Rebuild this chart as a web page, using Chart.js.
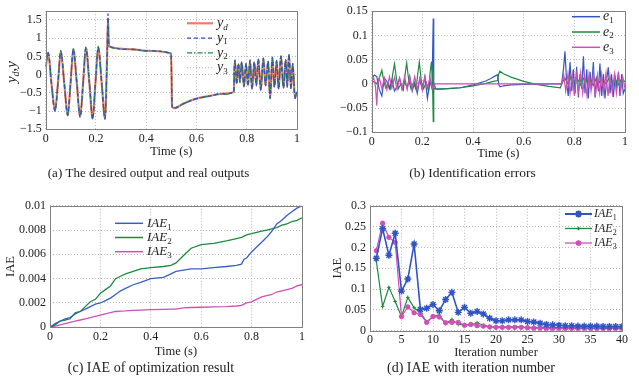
<!DOCTYPE html>
<html><head><meta charset="utf-8">
<script src="https://cdn.jsdelivr.net/npm/chart.js"></script>
<style>
html,body{margin:0;padding:0;background:#fff;width:639px;height:378px;overflow:hidden;}
canvas{position:absolute;}
</style></head><body>
<canvas id="ca" width="320" height="189" style="left:0;top:0"></canvas>
<canvas id="cb" width="319" height="189" style="left:320px;top:0"></canvas>
<canvas id="cc" width="320" height="189" style="left:0;top:189px"></canvas>
<canvas id="cd" width="319" height="189" style="left:320px;top:189px"></canvas>
<script>
// ---------- (a) desired output and real outputs ----------
const tA = [0, 0.010, 0.023, 0.037, 0.049, 0.060, 0.074, 0.0875, 0.099, 0.110, 0.124, 0.137, 0.149, 0.160, 0.174, 0.187, 0.198, 0.209, 0.223, 0.236, 0.244, 0.248, 0.2505, 0.253, 0.35, 0.40, 0.499, 0.503, 0.51, 0.55, 0.60, 0.65, 0.70, 0.749, 0.750, 0.753, 0.760, 0.767, 0.773, 0.780, 0.789, 0.797, 0.805, 0.813, 0.821, 0.830, 0.838, 0.846, 0.856, 0.866, 0.875, 0.885, 0.893, 0.902, 0.910, 0.919, 0.927, 0.936, 0.946, 0.955, 0.961, 0.968, 0.976, 0.983, 0.992, 1.0];
const yd = [0.2, 0.59, -0.25, -0.99, -0.22, 0.64, -0.25, -1.12, -0.22, 0.68, -0.25, -1.16, -0.22, 0.73, -0.25, -1.21, -0.22, 0.73, -0.25, -1.21, 0.4, 1.55, 0.9, 0.77, 0.693, 0.653, 0.575, -0.88, -0.92, -0.79, -0.66, -0.59, -0.53, -0.48, -0.02, 0.37, -0.24, 0.29, -0.20, 0.33, -0.33, 0.29, -0.29, 0.37, -0.39, 0.33, -0.29, 0.40, -0.42, 0.44, -0.29, 0.35, -0.64, 0.46, -0.33, 0.37, -0.39, 0.50, -0.36, 0.40, -0.33, 0.54, -0.38, 0.29, -0.64, -0.47];
const y1 = [0.21, 0.60, -0.25, -1.0, -0.22, 0.64, -0.26, -1.12, -0.22, 0.69, -0.25, -1.17, -0.22, 0.73, -0.26, -1.21, -0.22, 0.74, -0.25, -1.22, 0.45, 1.67, 0.9, 0.77, 0.692, 0.652, 0.58, -0.88, -0.925, -0.79, -0.66, -0.59, -0.53, -0.48, -0.02, 0.40, -0.26, 0.30, -0.22, 0.36, -0.33, 0.31, -0.31, 0.40, -0.40, 0.35, -0.31, 0.44, -0.44, 0.46, -0.31, 0.38, -0.66, 0.48, -0.35, 0.39, -0.40, 0.51, -0.37, 0.41, -0.35, 0.55, -0.40, 0.30, -0.66, -0.48];
const y2 = [0.2, 0.61, -0.24, -0.98, -0.21, 0.66, -0.24, -1.11, -0.21, 0.71, -0.24, -1.15, -0.21, 0.76, -0.24, -1.2, -0.21, 0.77, -0.24, -1.2, 0.35, 1.47, 0.88, 0.76, 0.688, 0.65, 0.58, -0.87, -0.91, -0.79, -0.66, -0.59, -0.535, -0.485, -0.02, 0.38, -0.23, 0.30, -0.19, 0.34, -0.32, 0.30, -0.28, 0.38, -0.38, 0.34, -0.28, 0.41, -0.41, 0.45, -0.28, 0.36, -0.63, 0.47, -0.32, 0.38, -0.38, 0.51, -0.35, 0.41, -0.32, 0.55, -0.37, 0.30, -0.63, -0.46];
const y3 = [0.2, 0.6, -0.25, -0.99, -0.22, 0.64, -0.25, -1.13, -0.22, 0.68, -0.25, -1.16, -0.22, 0.74, -0.25, -1.21, -0.22, 0.74, -0.25, -1.21, 0.4, 1.53, 0.9, 0.77, 0.693, 0.653, 0.575, -0.88, -0.92, -0.79, -0.66, -0.59, -0.53, -0.48, -0.02, 0.36, -0.22, 0.28, -0.19, 0.32, -0.31, 0.28, -0.27, 0.36, -0.37, 0.32, -0.27, 0.39, -0.40, 0.43, -0.27, 0.34, -0.62, 0.45, -0.31, 0.36, -0.37, 0.49, -0.34, 0.39, -0.31, 0.53, -0.36, 0.28, -0.62, -0.46];
const ticksAx = [0, 0.2, 0.4, 0.6, 0.8, 1];
const ticksAy = [-1.5, -1, -0.5, 0, 0.5, 1, 1.5];

// ---------- (b) identification errors ----------
const tE1 = [0, 0.01, 0.02, 0.03, 0.04, 0.05, 0.06, 0.07, 0.08, 0.09, 0.10, 0.11, 0.12, 0.13, 0.14, 0.15, 0.16, 0.17, 0.18, 0.19, 0.20, 0.21, 0.22, 0.23, 0.238, 0.243, 0.245, 0.247, 0.252, 0.26, 0.30, 0.35, 0.40, 0.45, 0.47, 0.49, 0.497, 0.502, 0.507, 0.52, 0.55, 0.60, 0.70, 0.75, 0.757, 0.763, 0.770, 0.776, 0.783, 0.790, 0.796, 0.803, 0.809, 0.816, 0.822, 0.829, 0.836, 0.842, 0.849, 0.855, 0.862, 0.868, 0.875, 0.882, 0.888, 0.895, 0.901, 0.908, 0.915, 0.921, 0.928, 0.934, 0.941, 0.947, 0.954, 0.961, 0.967, 0.974, 0.980, 0.987, 0.993, 1.0];
const e1 = [0.01, 0.018, 0.015, -0.012, -0.025, 0.012, 0.005, -0.01, 0.008, -0.015, -0.005, 0.012, -0.012, 0.005, -0.008, 0.016, -0.015, 0.003, -0.02, 0.01, -0.012, 0.015, -0.03, 0.005, -0.01, 0.135, -0.005, 0.0, -0.01, -0.011, -0.01, -0.008, -0.002, 0.006, 0.011, 0.017, 0.019, -0.002, -0.006, -0.004, -0.002, -0.001, 0.0, 0.0, 0.03, 0.067, 0.0, -0.025, 0.045, -0.015, 0.03, -0.02, 0.035, -0.028, 0.02, -0.01, 0.057, -0.02, 0.03, -0.03, 0.025, -0.01, 0.045, -0.028, 0.015, -0.015, 0.042, -0.025, 0.02, -0.03, 0.01, 0.034, -0.02, 0.02, -0.027, 0.015, -0.005, 0.025, -0.025, 0.02, -0.02, -0.01];
const tE2 = [0, 0.01, 0.02, 0.03, 0.04, 0.048, 0.055, 0.065, 0.075, 0.083, 0.09, 0.098, 0.105, 0.115, 0.125, 0.132, 0.138, 0.146, 0.155, 0.165, 0.175, 0.182, 0.188, 0.196, 0.205, 0.215, 0.225, 0.231, 0.236, 0.24, 0.243, 0.245, 0.248, 0.26, 0.30, 0.35, 0.40, 0.45, 0.48, 0.497, 0.501, 0.506, 0.52, 0.55, 0.60, 0.65, 0.70, 0.745, 0.75, 0.7625, 0.775, 0.7875, 0.80, 0.8125, 0.825, 0.8375, 0.85, 0.8625, 0.875, 0.8875, 0.90, 0.9125, 0.925, 0.9375, 0.95, 0.9625, 0.975, 0.9875, 1.0];
const e2 = [0.003, 0.005, 0.0, 0.012, 0.028, 0.005, -0.008, 0.002, -0.01, 0.02, 0.041, 0.01, -0.01, 0.0, -0.012, 0.02, 0.043, 0.008, -0.01, 0.002, -0.012, 0.022, 0.045, 0.005, -0.01, 0.003, -0.012, 0.025, 0.046, 0.01, -0.078, -0.008, -0.01, -0.011, -0.01, -0.008, -0.004, 0.001, 0.005, 0.007, 0.02, 0.026, 0.021, 0.014, 0.005, -0.001, -0.005, -0.008, 0.0, 0.012, 0.0, 0.015, 0.002, 0.01, -0.002, 0.012, 0.004, 0.008, -0.003, 0.013, 0.003, 0.01, 0.0, 0.012, 0.005, 0.009, -0.002, 0.011, 0.004];
const tE3 = [0, 0.008, 0.015, 0.02, 0.024, 0.03, 0.04, 0.05, 0.06, 0.07, 0.08, 0.09, 0.10, 0.11, 0.12, 0.13, 0.14, 0.15, 0.16, 0.17, 0.18, 0.19, 0.20, 0.21, 0.22, 0.23, 0.24, 0.25, 0.75, 0.758, 0.766, 0.775, 0.783, 0.792, 0.80, 0.808, 0.816, 0.825, 0.833, 0.841, 0.85, 0.858, 0.866, 0.875, 0.883, 0.891, 0.90, 0.908, 0.916, 0.925, 0.933, 0.941, 0.95, 0.958, 0.966, 0.975, 0.983, 0.991, 1.0];
const e3 = [0.005, 0.012, -0.005, -0.045, 0.0, 0.012, -0.01, 0.012, -0.012, 0.015, -0.008, 0.014, -0.012, 0.012, -0.01, 0.015, -0.012, 0.013, -0.01, 0.015, -0.012, 0.012, -0.012, 0.015, -0.01, 0.013, -0.01, 0.0, 0.0, 0.02, -0.015, 0.022, -0.02, 0.018, -0.025, 0.02, -0.018, 0.023, -0.02, 0.015, -0.025, 0.02, -0.015, 0.022, -0.028, 0.018, -0.02, 0.02, -0.018, 0.022, -0.025, 0.015, -0.02, 0.02, -0.02, 0.018, -0.015, 0.015, -0.01];
const ticksBx = [0, 0.2, 0.4, 0.6, 0.8, 1];
const ticksBy = [-0.1, -0.05, 0, 0.05, 0.1, 0.15];

// ---------- (c) IAE of optimization result ----------
const tC = [0, 0.02, 0.04, 0.06, 0.08, 0.10, 0.12, 0.14, 0.16, 0.18, 0.20, 0.22, 0.24, 0.26, 0.28, 0.30, 0.33, 0.36, 0.40, 0.45, 0.48, 0.50, 0.53, 0.56, 0.60, 0.65, 0.70, 0.74, 0.76, 0.77, 0.78, 0.80, 0.82, 0.84, 0.86, 0.88, 0.90, 0.92, 0.94, 0.96, 0.98, 1.0];
const iae1T = [0, 0.0003, 0.0005, 0.0007, 0.0008, 0.0011, 0.0013, 0.0015, 0.0017, 0.0019, 0.002, 0.0022, 0.0024, 0.0027, 0.003, 0.0032, 0.0035, 0.0037, 0.004, 0.0041, 0.0044, 0.0046, 0.0047, 0.0048, 0.0048, 0.0049, 0.005, 0.0051, 0.0052, 0.0056, 0.0057, 0.0062, 0.0066, 0.007, 0.0074, 0.0079, 0.0085, 0.0088, 0.0092, 0.0095, 0.0098, 0.01];
const iae2T = [0, 0.0002, 0.0005, 0.0006, 0.0007, 0.0012, 0.0013, 0.0017, 0.0021, 0.0023, 0.0028, 0.0031, 0.0034, 0.004, 0.0042, 0.0044, 0.0046, 0.0048, 0.0049, 0.005, 0.0051, 0.0053, 0.0059, 0.0065, 0.0068, 0.0069, 0.0071, 0.0073, 0.0074, 0.0075, 0.0076, 0.0077, 0.0078, 0.0079, 0.008, 0.0081, 0.0082, 0.0084, 0.0085, 0.0087, 0.0088, 0.009];
const iae3T = [0, 0.0001, 0.0002, 0.0003, 0.0004, 0.0005, 0.0006, 0.0007, 0.0008, 0.0009, 0.001, 0.0011, 0.0012, 0.0013, 0.00133, 0.00135, 0.0014, 0.00142, 0.00145, 0.00148, 0.0015, 0.0015, 0.0016, 0.00163, 0.00165, 0.00168, 0.0017, 0.00175, 0.0018, 0.0019, 0.002, 0.0021, 0.0023, 0.0025, 0.0026, 0.0027, 0.0029, 0.003, 0.0031, 0.0032, 0.0034, 0.0035];
const ticksCx = [0, 0.2, 0.4, 0.6, 0.8, 1];
const ticksCy = [0, 0.002, 0.004, 0.006, 0.008, 0.01];

// ---------- (d) IAE with iteration number ----------
const iterN = [1, 2, 3, 4, 5, 6, 7, 8, 9, 10, 11, 12, 13, 14, 15, 16, 17, 18, 19, 20, 21, 22, 23, 24, 25, 26, 27, 28, 29, 30, 31, 32, 33, 34, 35, 36, 37, 38, 39, 40];
const iae1N = [0.174, 0.245, 0.181, 0.234, 0.095, 0.124, 0.208, 0.051, 0.054, 0.063, 0.048, 0.075, 0.092, 0.044, 0.056, 0.042, 0.046, 0.040, 0.030, 0.024, 0.024, 0.026, 0.026, 0.026, 0.022, 0.021, 0.018, 0.015, 0.014, 0.013, 0.012, 0.012, 0.011, 0.011, 0.011, 0.011, 0.010, 0.010, 0.010, 0.010];
const iae2N = [0.168, 0.058, 0.104, 0.070, 0.034, 0.080, 0.055, 0.043, 0.021, 0.034, 0.038, 0.017, 0.027, 0.015, 0.014, 0.014, 0.019, 0.013, 0.010, 0.009, 0.009, 0.009, 0.009, 0.009, 0.008, 0.008, 0.008, 0.008, 0.008, 0.007, 0.007, 0.007, 0.007, 0.007, 0.007, 0.007, 0.007, 0.007, 0.007, 0.007];
const iae3N = [0.192, 0.258, 0.224, 0.212, 0.034, 0.057, 0.043, 0.039, 0.020, 0.034, 0.033, 0.019, 0.020, 0.020, 0.013, 0.015, 0.012, 0.011, 0.009, 0.008, 0.008, 0.008, 0.008, 0.008, 0.007, 0.006, 0.006, 0.005, 0.005, 0.005, 0.005, 0.005, 0.005, 0.005, 0.005, 0.005, 0.005, 0.005, 0.005, 0.005];
const ticksDx = [0, 5, 10, 15, 20, 25, 30, 35, 40];
const ticksDy = [0, 0.05, 0.1, 0.15, 0.2, 0.25, 0.3];

// ---------- helpers ----------
const SERIF = '"Liberation Serif", "Times New Roman", serif';
const TXT = '#222';
const pts = (xs, ys) => xs.map((x, i) => ({x: x, y: ys[i]}));
const fmt = v => (v < 0 ? '\u2212' : '') + String(Math.abs(v));
const fixedTicks = vals => scale => { scale.ticks = vals.map(v => ({value: v})); };

function fontStr(size, italic) { return (italic ? 'italic ' : '') + size + 'px ' + SERIF; }
function drawRich(ctx, x, y, parts, align) {
  let w = 0;
  parts.forEach(p => { ctx.font = fontStr(p[1], p[2]); w += ctx.measureText(p[0]).width; });
  let cx = align === 'center' ? x - w / 2 : x;
  ctx.textBaseline = 'middle'; ctx.textAlign = 'left'; ctx.fillStyle = TXT;
  parts.forEach(p => { ctx.font = fontStr(p[1], p[2]); ctx.fillText(p[0], cx, y + (p[3] || 0)); cx += ctx.measureText(p[0]).width; });
}

function decor(opts) {
  return {
    id: 'decor',
    afterDraw(chart) {
      const ctx = chart.ctx, a = chart.chartArea;
      ctx.save();
      ctx.setLineDash([]);
      ctx.strokeStyle = '#808080'; ctx.lineWidth = 1;
      ctx.strokeRect(Math.round(a.left) + 0.5, Math.round(a.top) + 0.5, Math.round(a.right) - Math.round(a.left), Math.round(a.bottom) - Math.round(a.top));
      const L = opts.legend;
      L.items.forEach((it, i) => {
        const y = L.y0 + i * L.dy;
        ctx.save();
        ctx.strokeStyle = it.color; ctx.lineWidth = it.width; ctx.setLineDash(it.dash || []);
        ctx.beginPath(); ctx.moveTo(L.x1, y); ctx.lineTo(L.x2, y); ctx.stroke();
        ctx.setLineDash([]);
        if (it.point) {
          ctx.fillStyle = it.color; ctx.strokeStyle = it.color;
          Chart.helpers.drawPoint(ctx, {pointStyle: it.point, radius: it.radius, borderWidth: it.pbw, rotation: 0}, (L.x1 + L.x2) / 2, y);
        }
        ctx.restore();
        drawRich(ctx, L.tx, y, it.parts, 'left');
      });
      if (opts.yTitle) {
        ctx.save();
        ctx.translate(opts.yTitle.x, opts.yTitle.y); ctx.rotate(-Math.PI / 2);
        drawRich(ctx, 0, 0, opts.yTitle.parts, 'center');
        ctx.restore();
      }
      ctx.restore();
    }
  };
}

function axis(o) {
  return {
    type: 'linear', min: o.min, max: o.max,
    afterBuildTicks: fixedTicks(o.ticks),
    afterFit: s => { if (o.width !== undefined) s.width = o.width; if (o.height !== undefined) s.height = o.height; },
    grid: {color: '#b8b8b8', lineWidth: 1, drawTicks: false},
    border: {display: false, dash: [1, 2]},
    ticks: {font: {family: SERIF, size: 12}, color: TXT, padding: o.pad, maxRotation: 0, autoSkip: false, callback: fmt},
    title: o.title ? {display: true, text: o.title, font: {family: SERIF, size: 12.5}, color: TXT, padding: o.titlePad} : {display: false}
  };
}
function baseOpts(o) {
  return {
    responsive: false, animation: false, devicePixelRatio: 1,
    layout: {padding: o.padding},
    plugins: {
      legend: {display: false}, tooltip: {enabled: false},
      title: {display: true, position: 'bottom', text: o.caption, font: {family: SERIF, size: o.capSize, weight: 'normal'}, color: TXT, padding: {top: 0, bottom: o.capPad}}
    },
    scales: {x: axis(o.x), y: axis(o.y)}
  };
}
function line(label, data, color, width, dash, order, extra) {
  return Object.assign({label: label, data: data, borderColor: color, backgroundColor: color, borderWidth: width, borderDash: dash || [], pointRadius: 0, order: order, tension: 0}, extra || {});
}

const BLUE = '#2f54c4', GREEN = '#1e8a3e', MAG = '#d04fb8', SALMON = '#f07a62', PINK = '#e6a6de';

// ---------- chart (a) ----------
const mono = {cubicInterpolationMode: 'monotone'};
new Chart(document.getElementById('ca'), {
  type: 'line',
  data: {datasets: [
    line('y_d', pts(tA, yd), SALMON, 2.2, [], 4, mono),
    line('y_1', pts(tA, y1), BLUE, 1.3, [4, 3], 1, mono),
    line('y_2', pts(tA, y2), GREEN, 1.3, [5, 2, 1.5, 2], 2, mono),
    line('y_3', pts(tA, y3), PINK, 1.2, [1, 2], 3, mono)
  ]},
  options: baseOpts({
    padding: {top: 7, right: 23, left: 0, bottom: 0},
    caption: '(a) The desired output and real outputs', capSize: 13, capPad: 7.9,
    x: {min: 0, max: 1, ticks: ticksAx, pad: 2, height: 36.2, title: 'Time (s)', titlePad: {top: 0, bottom: 6}},
    y: {min: -1.5, max: 1.738, ticks: ticksAy, pad: 4, width: 45.7}
  }),
  plugins: [decor({
    legend: {x1: 187, x2: 213, tx: 217, y0: 23.3, dy: 14.8, items: [
      {color: SALMON, width: 2.2, parts: [['y', 14, true], ['d', 9, true, 4]]},
      {color: BLUE, width: 1.3, dash: [4, 3], parts: [['y', 14, true], ['1', 9, false, 4]]},
      {color: GREEN, width: 1.3, dash: [5, 2, 1.5, 2], parts: [['y', 14, true], ['2', 9, false, 4]]},
      {color: PINK, width: 1.2, dash: [1, 2], parts: [['y', 14, true], ['3', 9, false, 4]]}
    ]},
    yTitle: {x: 12.5, y: 72, parts: [['y', 15, true], ['d', 10, true, 4], [',', 15, false], ['y', 15, true]]}
  })]
});

// ---------- chart (b) ----------
new Chart(document.getElementById('cb'), {
  type: 'line',
  data: {datasets: [
    line('e_1', pts(tE1, e1), '#3558c0', 1.2, [], 3),
    line('e_2', pts(tE2, e2), GREEN, 1.2, [], 2),
    line('e_3', pts(tE3, e3), MAG, 1.2, [], 1)
  ]},
  options: baseOpts({
    padding: {top: 7, right: 14, left: 0, bottom: 0},
    caption: '(b) Identification errors', capSize: 13.5, capPad: 7.6,
    x: {min: 0, max: 1, ticks: ticksBx, pad: 2, height: 32.9, title: 'Time (s)', titlePad: {top: 0, bottom: 3.7}},
    y: {min: -0.1, max: 0.15, ticks: ticksBy, pad: 4, width: 51.7}
  }),
  plugins: [decor({
    legend: {x1: 252, x2: 280, tx: 283, y0: 16.7, dy: 15.3, items: [
      {color: '#3558c0', width: 1.5, parts: [['e', 14, true], ['1', 9, false, 4]]},
      {color: GREEN, width: 1.5, parts: [['e', 14, true], ['2', 9, false, 4]]},
      {color: MAG, width: 1.5, parts: [['e', 14, true], ['3', 9, false, 4]]}
    ]}
  })]
});

// ---------- chart (c) ----------
new Chart(document.getElementById('cc'), {
  type: 'line',
  data: {datasets: [
    line('IAE_1', pts(tC, iae1T), '#3a5fc4', 1.3, [], 1),
    line('IAE_2', pts(tC, iae2T), GREEN, 1.3, [], 2),
    line('IAE_3', pts(tC, iae3T), MAG, 1.3, [], 3)
  ]},
  options: baseOpts({
    padding: {top: 16.7, right: 18, left: 0, bottom: 0},
    caption: '(c) IAE of optimization result', capSize: 14, capPad: 1.3,
    x: {min: 0, max: 1, ticks: ticksCx, pad: 2, height: 32.6, title: 'Time (s)', titlePad: {top: 0, bottom: 0.7}},
    y: {min: 0, max: 0.01, ticks: ticksCy, pad: 4, width: 50, title: 'IAE', titlePad: {top: 3.2, bottom: 0}}
  }),
  plugins: [decor({
    legend: {x1: 115, x2: 143, tx: 147, y0: 34.3, dy: 14.2, items: [
      {color: '#3a5fc4', width: 1.5, parts: [['IAE', 13, true], ['1', 9, false, 4]]},
      {color: GREEN, width: 1.5, parts: [['IAE', 13, true], ['2', 9, false, 4]]},
      {color: MAG, width: 1.5, parts: [['IAE', 13, true], ['3', 9, false, 4]]}
    ]}
  })]
});

// ---------- chart (d) ----------
new Chart(document.getElementById('cd'), {
  type: 'line',
  data: {datasets: [
    line('IAE_1', pts(iterN, iae1N), BLUE, 1.6, [], 1, {pointStyle: 'star', pointRadius: 3.5, pointBorderWidth: 1.4, pointBorderColor: BLUE, pointBackgroundColor: BLUE}),
    line('IAE_2', pts(iterN, iae2N), GREEN, 1.2, [], 3, {pointStyle: 'cross', pointRadius: 1.8, pointBorderWidth: 1, pointBorderColor: GREEN}),
    line('IAE_3', pts(iterN, iae3N), MAG, 1.2, [], 2, {pointStyle: 'circle', pointRadius: 2.2, pointBorderWidth: 1, pointBorderColor: MAG, pointBackgroundColor: MAG})
  ]},
  options: baseOpts({
    padding: {top: 16.7, right: 17, left: 0, bottom: 0},
    caption: '(d) IAE with iteration number', capSize: 14, capPad: 1.3,
    x: {min: 0, max: 40, ticks: ticksDx, pad: 2, height: 29.2, title: 'Iteration number', titlePad: {top: 0, bottom: 0}},
    y: {min: 0, max: 0.3, ticks: ticksDy, pad: 4, width: 50, title: 'IAE', titlePad: {top: 9.8, bottom: 0}}
  }),
  plugins: [decor({
    legend: {x1: 245, x2: 272, tx: 274, y0: 25, dy: 14.5, items: [
      {color: BLUE, width: 2, point: 'star', radius: 3.5, pbw: 1.4, parts: [['IAE', 12, true], ['1', 8, false, 4]]},
      {color: GREEN, width: 1.3, point: 'cross', radius: 1.8, pbw: 1, parts: [['IAE', 12, true], ['2', 8, false, 4]]},
      {color: MAG, width: 1.3, point: 'circle', radius: 2.2, pbw: 1, parts: [['IAE', 12, true], ['3', 8, false, 4]]}
    ]}
  })]
});
</script>
</body></html>
